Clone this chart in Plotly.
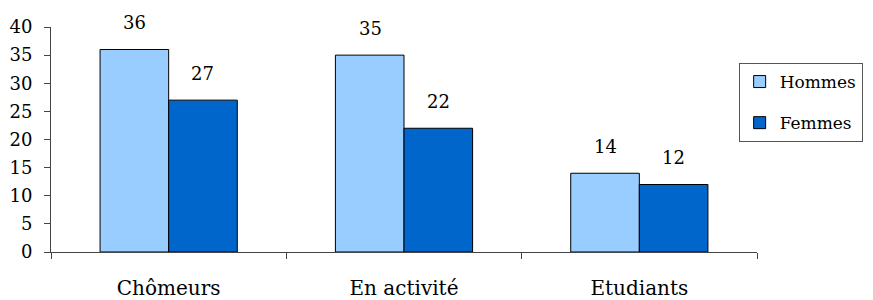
import plotly.graph_objects as go

categories = ["Chômeurs", "En activité", "Etudiants"]
hommes = [36, 35, 14]
femmes = [27, 22, 12]
series_names = ["Hommes", "Femmes"]

FONT = "DejaVu Serif"

fig = go.Figure()
fig.add_trace(go.Bar(x=categories, y=hommes, name=series_names[0], legendgroup="h",
                     marker=dict(color="#99CCFF", line=dict(color="#000000", width=1))))
fig.add_trace(go.Bar(x=categories, y=femmes, name=series_names[1], legendgroup="f",
                     marker=dict(color="#0066CC", line=dict(color="#000000", width=1))))

annotations = []
for cat, h, f in zip(categories, hommes, femmes):
    annotations.append(dict(x=cat, y=h, text=str(h), xref="x", yref="y", showarrow=False,
                            xshift=-34, yshift=27, yanchor="middle",
                            font=dict(family=FONT, size=18, color="#000")))
    annotations.append(dict(x=cat, y=f, text=str(f), xref="x", yref="y", showarrow=False,
                            xshift=34, yshift=27, yanchor="middle",
                            font=dict(family=FONT, size=18, color="#000")))

fig.update_layout(
    width=865, height=292,
    margin=dict(l=43, r=116, t=19, b=48, autoexpand=False),
    paper_bgcolor="white", plot_bgcolor="white",
    barmode="group", bargap=0.417, bargroupgap=0,
    font=dict(family=FONT, size=18, color="#000"),
    showlegend=True,
    legend=dict(x=0.974, y=0.84, xanchor="left", yanchor="top",
                bordercolor="#555", borderwidth=1, bgcolor="white",
                font=dict(family=FONT, size=17), tracegroupgap=16,
                itemwidth=30),
    annotations=annotations,
)
fig.update_xaxes(showline=True, linecolor="#444", linewidth=1, ticks="outside",
                 tickson="boundaries", ticklen=6, tickcolor="#444",
                 ticklabelstandoff=18,
                 tickfont=dict(family=FONT, size=20), showgrid=False)
fig.update_yaxes(range=[0, 40], dtick=5, showline=True, linecolor="#444", linewidth=1,
                 ticks="outside", ticklen=6, tickcolor="#444", showgrid=False,
                 ticklabelstandoff=8,
                 zeroline=False, tickfont=dict(family=FONT, size=18))

fig.write_html("out.html")
